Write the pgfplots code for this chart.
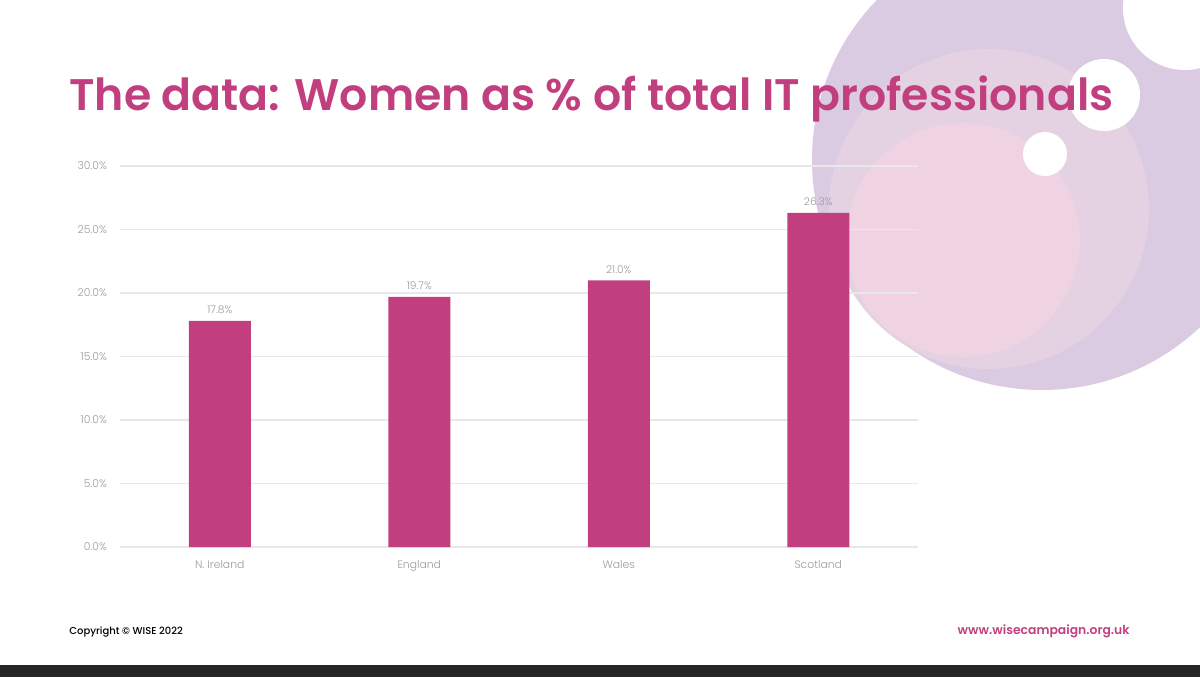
\documentclass[border=0pt]{standalone}
\usepackage{pgfplots}
\pgfplotsset{compat=1.18}
\usepackage{fontspec}
\setmainfont{Poppins}
\newfontfamily\light{Poppins Light}
\newfontfamily\semibold{Poppins SemiBold}
\newfontfamily\medium{Poppins Medium}
\definecolor{wpink}{HTML}{C13F7E}
\definecolor{lav}{HTML}{DACBE2}
\definecolor{lavpink}{HTML}{E4D2E2}
\definecolor{pinkc}{HTML}{EFD3E3}
\definecolor{tgray}{HTML}{9A9A9A}
\definecolor{ggray}{HTML}{E8E8EC}
\begin{document}
\begin{tikzpicture}[x=0.5pt,y=0.5pt]
\path[use as bounding box] (0,0) rectangle (1200,677);
\begin{scope}
\clip (0,0) rectangle (1200,677);
\fill[lav] (1042,517) circle (230);
\fill[lavpink] (989,468) circle (160);
\fill[pinkc] (963,437) circle (117);
\fill[white] (1185,669) circle (62);
\fill[white] (1104,582) circle (36);
\fill[white] (1045,523) circle (22);
\fill[black!85] (0,0) rectangle (1200,12);
\end{scope}
\begin{axis}[
  at={(60pt,65pt)}, anchor=south west,
  scale only axis, width=399pt, height=190.5pt,
  xmin=-0.5, xmax=3.5, ymin=0, ymax=30,
  ybar, bar width=31pt,
  axis line style={draw=none},
  major tick length=0pt,
  xtick=data,
  xticklabels={N. Ireland, England, Wales, Scotland},
  ytick={0,5,10,15,20,25,30},
  ymajorgrids, grid style={ggray, line width=0.6pt},
  /pgf/number format/assume math mode=true,
  yticklabel={\pgfmathprintnumber[fixed,fixed zerofill,precision=1]{\tick}\%},
  ticklabel style={font=\light\fontsize{5.4pt}{7pt}\selectfont, text=tgray},
  xticklabel style={yshift=-3pt},
  yticklabel style={xshift=-3pt},
  nodes near coords={\pgfmathprintnumber[fixed,fixed zerofill,precision=1]{\pgfplotspointmeta}\%},
  every node near coord/.append style={font=\light\fontsize{5.3pt}{7pt}\selectfont, text=tgray, yshift=0pt},
]
\addplot[fill=wpink, draw=none] coordinates {(0,17.8) (1,19.7) (2,21.0) (3,26.3)};
\end{axis}
\node[anchor=base west, inner sep=0, text=wpink, font=\semibold\fontsize{22.1pt}{27pt}\selectfont] at (69,567) {The data: Women as \% of total IT professionals};
\node[anchor=base west, inner sep=0, font=\medium\fontsize{5pt}{7pt}\selectfont] at (69,43) {Copyright © WISE 2022};
\node[anchor=base east, inner sep=0, text=wpink, font=\semibold\fontsize{6.2pt}{8pt}\selectfont] at (1130,43) {www.wisecampaign.org.uk};
\end{tikzpicture}
\end{document}
